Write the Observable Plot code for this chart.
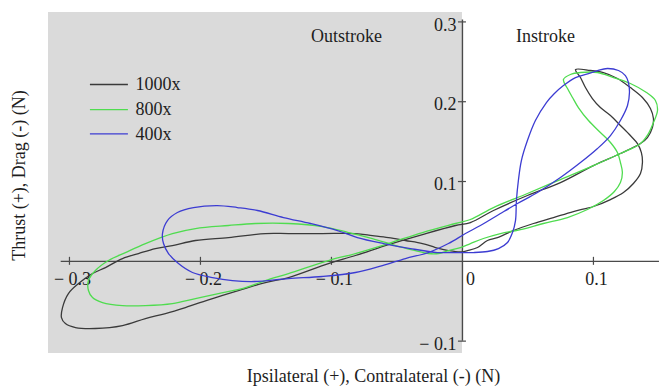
<!DOCTYPE html>
<html>
<head>
<meta charset="utf-8">
<script src="https://cdn.jsdelivr.net/npm/d3@7"></script>
<script src="https://cdn.jsdelivr.net/npm/@observablehq/plot@0.6"></script>
<style>
  html, body { margin: 0; padding: 0; background: #ffffff; }
  #chart svg { display: block; }
</style>
</head>
<body>
<div id="chart"></div>
<script>
// ---- Data ----
const seriesNames = ["1000x", "800x", "400x"];
const seriesColors = ["#3a3a3a", "#4fdc4f", "#3c3cd2"];

const x1000 = [-0.0053,0.0061,0.0237,0.0496,0.0748,0.1000,0.1206,0.1359,0.1412,0.1450,0.1458,0.1435,0.1374,0.1282,0.1183,0.1076,0.0977,0.0863,
  0.0901,0.0939,0.0992,0.1053,0.1130,0.1206,0.1282,0.1336,0.1366,0.1374,0.1359,0.1305,0.1229,0.1130,0.1000,0.0847,0.0695,0.0542,0.0389,0.0267,0.0191,0.0115,0.0038,-0.0015,
  -0.0107,-0.0206,-0.0305,-0.0435,-0.0565,-0.0687,-0.0817,-0.1069,-0.1328,-0.1504,-0.1786,-0.2038,-0.2214,-0.2344,-0.2473,-0.2595,-0.2725,-0.2824,-0.2931,-0.3008,-0.3053,-0.3061,-0.3031,-0.2954,-0.2802,-0.2595,-0.2420,-0.2267,-0.2115,-0.1908,-0.1710,-0.1504,-0.1328,-0.1023,-0.0817,-0.0565,-0.0305];
const y1000 = [0.0449,0.0486,0.0637,0.0825,0.0987,0.1200,0.1351,0.1476,0.1551,0.1677,0.1789,0.1915,0.2053,0.2178,0.2291,0.2366,0.2391,0.2403,
  0.2303,0.2178,0.2040,0.1927,0.1827,0.1702,0.1576,0.1476,0.1363,0.1238,0.1100,0.0975,0.0862,0.0774,0.0687,0.0624,0.0549,0.0474,0.0386,0.0298,0.0261,0.0173,0.0135,0.0117,
  0.0135,0.0173,0.0223,0.0261,0.0298,0.0323,0.0348,0.0348,0.0348,0.0348,0.0298,0.0261,0.0198,0.0160,0.0098,0.0035,-0.0078,-0.0153,-0.0279,-0.0404,-0.0580,-0.0705,-0.0780,-0.0830,-0.0842,-0.0805,-0.0717,-0.0654,-0.0579,-0.0466,-0.0366,-0.0266,-0.0203,-0.0028,0.0073,0.0210,0.0336];

const x800 = [-0.0053,0.0061,0.0237,0.0496,0.0748,0.1000,0.1206,0.1359,0.1420,0.1458,0.1489,0.1473,0.1405,0.1282,0.1153,0.1031,0.0901,0.0824,0.0771,
  0.0802,0.0840,0.0885,0.0962,0.1053,0.1130,0.1183,0.1206,0.1221,0.1206,0.1160,0.1076,0.0954,0.0802,0.0618,0.0443,0.0290,0.0160,0.0061,-0.0015,
  -0.0107,-0.0183,-0.0260,-0.0359,-0.0511,-0.0687,-0.0870,-0.1069,-0.1328,-0.1580,-0.1786,-0.2038,-0.2214,-0.2420,-0.2573,-0.2702,-0.2802,-0.2855,-0.2855,-0.2824,-0.2748,-0.2595,-0.2420,-0.2214,-0.2038,-0.1863,-0.1656,-0.1504,-0.1328,-0.1023,-0.0817,-0.0565,-0.0305];
const y800 = [0.0474,0.0524,0.0674,0.0850,0.1025,0.1200,0.1351,0.1476,0.1601,0.1739,0.1890,0.2015,0.2115,0.2228,0.2303,0.2366,0.2366,0.2341,0.2278,
  0.2165,0.2053,0.1927,0.1764,0.1614,0.1489,0.1363,0.1238,0.1113,0.0987,0.0875,0.0762,0.0649,0.0549,0.0474,0.0398,0.0348,0.0286,0.0223,0.0173,
  0.0135,0.0098,0.0098,0.0135,0.0198,0.0286,0.0361,0.0436,0.0474,0.0474,0.0449,0.0411,0.0348,0.0223,0.0110,0.0010,-0.0115,-0.0241,-0.0366,-0.0454,-0.0516,-0.0554,-0.0554,-0.0529,-0.0466,-0.0404,-0.0328,-0.0241,-0.0153,0.0010,0.0098,0.0223,0.0361];

const x400 = [0.0008,-0.0107,-0.0191,-0.0397,-0.0603,-0.0802,-0.0954,-0.1160,-0.1366,-0.1565,-0.1718,-0.1870,-0.2053,-0.2176,-0.2252,-0.2290,-0.2282,-0.2244,-0.2168,-0.2061,-0.1908,-0.1756,-0.1588,-0.1328,-0.1069,-0.0817,-0.0611,-0.0435,-0.0260,-0.0107,
  0.0023,0.0137,0.0290,0.0420,0.0573,0.0748,0.0901,0.1031,0.1130,0.1206,0.1260,0.1275,0.1267,0.1244,0.1191,0.1107,0.1031,0.0962,0.0863,0.0771,0.0702,0.0641,0.0557,0.0496,0.0450,0.0427,0.0412,0.0405,0.0382,0.0344,0.0275,0.0191,0.0084];
const y400 = [0.0110,0.0110,0.0110,0.0160,0.0223,0.0298,0.0386,0.0474,0.0549,0.0637,0.0674,0.0699,0.0674,0.0612,0.0511,0.0348,0.0223,0.0098,-0.0028,-0.0140,-0.0203,-0.0241,-0.0253,-0.0216,-0.0190,-0.0140,-0.0053,0.0035,0.0110,0.0223,
  0.0348,0.0449,0.0599,0.0724,0.0862,0.1050,0.1238,0.1414,0.1576,0.1764,0.1952,0.2115,0.2241,0.2328,0.2391,0.2416,0.2391,0.2353,0.2303,0.2203,0.2103,0.1990,0.1764,0.1513,0.1263,0.1013,0.0762,0.0511,0.0361,0.0236,0.0160,0.0123,0.0110];

const xTickValues = [-0.3, -0.2, -0.1, 0.1];
const xTickLabels = ["\u2212 0.3", "\u2212 0.2", "\u2212 0.1", "0.1"];
const xZeroLabel = ["0"];
const yTickValues = [0.3, 0.2, 0.1, -0.1];
const yTickLabels = ["0.3", "0.2", "0.1", "\u2212 0.1"];

const regionLabels = ["Outstroke", "Instroke"];
const regionX = [-0.0885, 0.0634];
const regionY = [0.2817, 0.2817];

const xTitle = "Ipsilateral (+), Contralateral (-) (N)";
const yTitle = "Thrust (+), Drag (-) (N)";

// ---- Build tables ----
const xs = [x1000, x800, x400];
const ys = [y1000, y800, y400];
const rows = [];
seriesNames.forEach((name, s) => {
  xs[s].forEach((v, i) => rows.push({series: name, x: v, y: ys[s][i]}));
});

const xDomain = [-0.3160, 0.1489];
const yDomain = [-0.1155, 0.3118];
const legendX1 = -0.2840, legendX2 = -0.2550, legendTextX = -0.2496;
const legendY = [0.2216, 0.1902, 0.1598];
const legend = seriesNames.map((n, i) => ({series: n, y: legendY[i]}));

const font = "'Liberation Serif', 'Times New Roman', serif";

const chart = Plot.plot({
  width: 664,
  height: 388,
  marginLeft: 48,
  marginRight: 7,
  marginTop: 12,
  marginBottom: 35,
  style: {fontFamily: font, fontSize: "18px", color: "#1e1e1e", background: "#ffffff"},
  x: {domain: xDomain, axis: null},
  y: {domain: yDomain, axis: null},
  color: {domain: seriesNames, range: seriesColors},
  marks: [
    Plot.rect([0], {x1: xDomain[0], x2: 0, y1: yDomain[0], y2: yDomain[1], fill: "#dadada"}),
    // axes through the origin
    Plot.ruleY([0], {x1: -0.3063, x2: 0.1504, stroke: "#4a4a4a", strokeWidth: 1.4}),
    Plot.ruleX([0], {y1: -0.1, y2: 0.3025, stroke: "#4a4a4a", strokeWidth: 1.4}),
    Plot.ruleX(xTickValues, {x: d => d, y1: 0, y2: 0, insetTop: -4, insetBottom: -4, stroke: "#4a4a4a", strokeWidth: 1.2}),
    Plot.ruleY(yTickValues, {y: d => d, x1: 0, x2: 0, insetLeft: -4, insetRight: -4, stroke: "#4a4a4a", strokeWidth: 1.2}),
    Plot.text(xTickValues, {x: d => d, y: 0, text: (d, i) => xTickLabels[i], dy: 18, dx: 3, fill: "#1e1e1e"}),
    Plot.text(xZeroLabel, {x: 0, y: 0, text: d => d, dy: 18, dx: 8, fill: "#1e1e1e"}),
    Plot.text(yTickValues, {x: 0, y: d => d, text: (d, i) => yTickLabels[i], textAnchor: "end", dx: -6, dy: 3, fill: "#1e1e1e"}),
    // curves
    Plot.line(rows, {x: "x", y: "y", z: "series", stroke: "series", strokeWidth: 1.3, curve: "catmull-rom-closed"}),
    // region labels
    Plot.text(regionLabels, {x: (d, i) => regionX[i], y: (d, i) => regionY[i], text: d => d, fill: "#1e1e1e"}),
    // legend
    Plot.ruleY(legend, {y: "y", x1: legendX1, x2: legendX2, stroke: "series", strokeWidth: 1.3}),
    Plot.text(legend, {y: "y", x: legendTextX, text: "series", textAnchor: "start", fill: "#1e1e1e"}),
    // axis titles
    Plot.text([xTitle], {frameAnchor: "bottom", text: d => d, textAnchor: "middle", lineAnchor: "middle", dx: 20.5, dy: 23, fill: "#1e1e1e"}),
    Plot.text([yTitle], {frameAnchor: "left", text: d => d, textAnchor: "middle", lineAnchor: "middle", rotate: -90, dx: -29, dy: -7.5, fill: "#1e1e1e"})
  ]
});
document.getElementById("chart").appendChild(chart);
</script>
</body>
</html>
